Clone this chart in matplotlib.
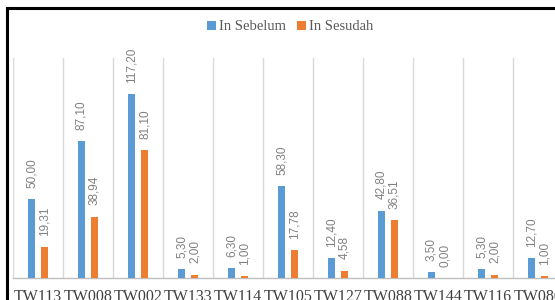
import matplotlib
matplotlib.use('Agg')
import matplotlib.pyplot as plt
from matplotlib.lines import Line2D
import numpy as np

# data
categories = ['TW113', 'TW008', 'TW002', 'TW133', 'TW114', 'TW105',
              'TW127', 'TW088', 'TW144', 'TW116', 'TW080']
sebelum = [50.00, 87.10, 117.20, 5.30, 6.30, 58.30, 12.40, 42.80, 3.50, 5.30, 12.70]
sesudah = [19.31, 38.94, 81.10, 2.00, 1.00, 17.78, 4.58, 36.51, 0.00, 2.00, 1.00]

BLUE = '#5B9BD5'
ORANGE = '#ED7D31'
GREY = '#808080'
SERIF = ['Liberation Serif', 'DejaVu Serif']
LABEL_FONT = ['Liberation Sans', 'DejaVu Sans']

W, H = 555, 300
fig = plt.figure(figsize=(W / 100, H / 100), dpi=100)

# plot area runs past the right edge (reference is a cropped chart)
left, right = 13 / W, 563 / W
bottom, top = (H - 277.7) / H, (H - 58) / H
ax = fig.add_axes([left, bottom, right - left, top - bottom])

x = np.arange(len(categories))
bw = 0.15
off = 0.13
ax.bar(x - off, sebelum, bw, color=BLUE, label='In Sebelum', zorder=3)
ax.bar(x + off, sesudah, bw, color=ORANGE, label='In Sesudah', zorder=3)

def fmt(v):
    return f'{v:.2f}'.replace('.', ',')

for xs, vals in [(x - off, sebelum), (x + off, sesudah)]:
    for xi, v in zip(xs, vals):
        ax.annotate(fmt(v), (xi, v), xytext=(0, 8), textcoords='offset points',
                    rotation=90, ha='center', va='bottom', color=GREY,
                    fontsize=8.5, family=LABEL_FONT, annotation_clip=False)

ax.set_xlim(-0.5, len(categories) - 0.5)
ax.set_ylim(0, 140)

# vertical category separators
for b in np.arange(-0.5, len(categories), 1.0):
    ax.axvline(b, color='#D9D9D9', lw=1, zorder=1)

for s in ['top', 'right', 'left']:
    ax.spines[s].set_visible(False)
ax.spines['bottom'].set_color('#BFBFBF')
ax.spines['bottom'].set_linewidth(1)

ax.set_yticks([])
ax.set_xticks(x)
ax.set_xticklabels(categories, family=SERIF, fontsize=11.5, color='#404040')
ax.tick_params(axis='x', length=0, pad=8)

leg = fig.legend(loc='center', bbox_to_anchor=(290 / W, 1 - 27 / H), ncol=2,
                 frameon=False, handlelength=0.6, handleheight=0.6,
                 handletextpad=0.2, columnspacing=0.8,
                 prop={'family': SERIF, 'size': 10.5})
for t in leg.get_texts():
    t.set_color('#595959')

# black outer frame (top and left edges visible in the crop)
fig.add_artist(Line2D([7 / W, 1.0], [1 - 8 / H, 1 - 8 / H], color='black', lw=2.2))
fig.add_artist(Line2D([7 / W, 7 / W], [0.0, 1 - 8 / H], color='black', lw=2.2))

fig.savefig('out.png', dpi=100)
